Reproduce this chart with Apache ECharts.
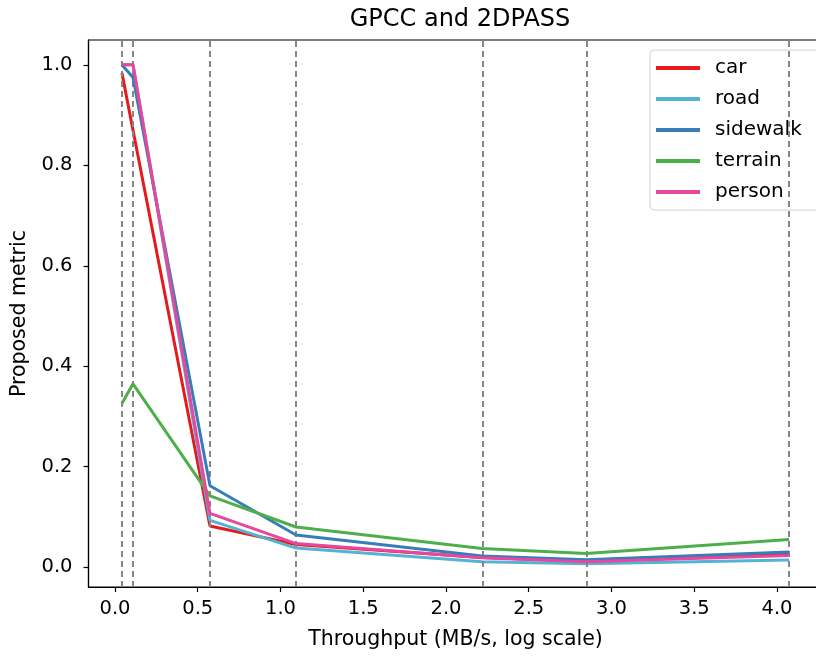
<!DOCTYPE html>
<html>
<head>
<meta charset="utf-8">
<script src="https://cdn.jsdelivr.net/npm/echarts@6/dist/echarts.min.js"></script>
<style>
  html, body { margin: 0; padding: 0; background: #fff; }
  #chart { width: 816px; height: 657px; }
</style>
</head>
<body>
<div id="chart"></div>
<script>
// throughput points (MB/s) where each run was measured
const throughput = [0.042, 0.109, 0.574, 1.094, 2.218, 2.846, 4.073]

const car = [0.984, 0.87, 0.082, 0.045, 0.019, 0.012, 0.026]
const road = [1.0, 1.0, 0.093, 0.038, 0.011, 0.007, 0.0145]
const sidewalk = [1.0, 0.975, 0.162, 0.064, 0.022, 0.015, 0.030]
const terrain = [0.326, 0.365, 0.142, 0.080, 0.037, 0.027, 0.055]
const person = [1.0, 1.0, 0.107, 0.047, 0.0185, 0.011, 0.023]

const xTicks = [0, 0.5, 1.0, 1.5, 2.0, 2.5, 3.0, 3.5, 4.0]
const yTicks = [0, 0.2, 0.4, 0.6, 0.8, 1.0]

const names = ['car', 'road', 'sidewalk', 'terrain', 'person']
const colors = ['#e41a1c', '#53b3d6', '#377eb8', '#4daf4a', '#e5489c']
const values = [car, road, sidewalk, terrain, person]

const font = 'DejaVu Sans'

let chart = echarts.init(document.getElementById('chart'))

let lines = names.map(function (name, i) {
  return {
    name: name,
    type: 'line',
    data: throughput.map(function (x, j) { return [x, values[i][j]] }),
    symbol: 'none',
    color: colors[i],
    lineStyle: { color: colors[i], width: 3 },
    z: 3 + i,
    animation: false
  }
})

// vertical dashed markers at each measured throughput
lines.unshift({
  name: 'marks',
  type: 'line',
  data: [],
  z: 2,
  animation: false,
  markLine: {
    symbol: 'none',
    silent: true,
    animation: false,
    label: { show: false },
    lineStyle: { color: '#868686', type: [6, 4], width: 2 },
    data: throughput.map(function (x) { return { xAxis: x } })
  }
})

let option = {
  backgroundColor: '#fff',
  animation: false,
  title: {
    text: 'GPCC and 2DPASS',
    left: 455,
    top: 3,
    textAlign: 'center',
    textStyle: { fontFamily: font, fontSize: 24, fontWeight: 'normal', color: '#000' }
  },
  grid: {
    left: 88.5,
    top: 40,
    width: 734,
    height: 547,
    outerBoundsMode: 'none',
    containLabel: false,
    show: true,
    borderColor: '#000',
    borderWidth: 1.2,
    backgroundColor: 'transparent'
  },
  legend: {
    data: names,
    orient: 'vertical',
    left: 650,
    top: 50,
    padding: [8, 20, 8, 6],
    itemGap: 11,
    itemWidth: 44,
    itemHeight: 4,
    icon: 'rect',
    backgroundColor: 'rgba(255,255,255,0.85)',
    borderColor: '#d0d0d0',
    borderWidth: 1,
    borderRadius: 4,
    textStyle: { fontFamily: font, fontSize: 20, color: '#000', padding: [0, 0, 0, 10] }
  },
  xAxis: {
    type: 'value',
    min: -0.16,
    max: 4.275,
    name: 'Throughput (MB/s, log scale)',
    nameLocation: 'middle',
    nameGap: 42,
    nameTextStyle: { fontFamily: font, fontSize: 20.5, color: '#000' },
    axisLine: { show: true, onZero: false, lineStyle: { color: '#000', width: 1.2 } },
    axisTick: { show: true, length: 5, customValues: xTicks, lineStyle: { color: '#000', width: 1.2 } },
    axisLabel: {
      customValues: xTicks,
      fontFamily: font, fontSize: 19.5, color: '#000', margin: 12,
      formatter: function (v) { return v.toFixed(1) }
    },
    splitLine: { show: false }
  },
  yAxis: {
    type: 'value',
    min: -0.0395,
    max: 1.0495,
    name: 'Proposed metric',
    nameLocation: 'middle',
    nameGap: 58,
    nameTextStyle: { fontFamily: font, fontSize: 20.5, color: '#000' },
    axisLine: { show: true, onZero: false, lineStyle: { color: '#000', width: 1.2 } },
    axisTick: { show: true, length: 5, customValues: yTicks, lineStyle: { color: '#000', width: 1.2 } },
    axisLabel: {
      customValues: yTicks,
      fontFamily: font, fontSize: 19.5, color: '#000', margin: 16,
      formatter: function (v) { return v.toFixed(1) }
    },
    splitLine: { show: false }
  },
  series: lines
}

chart.setOption(option)
</script>
</body>
</html>
